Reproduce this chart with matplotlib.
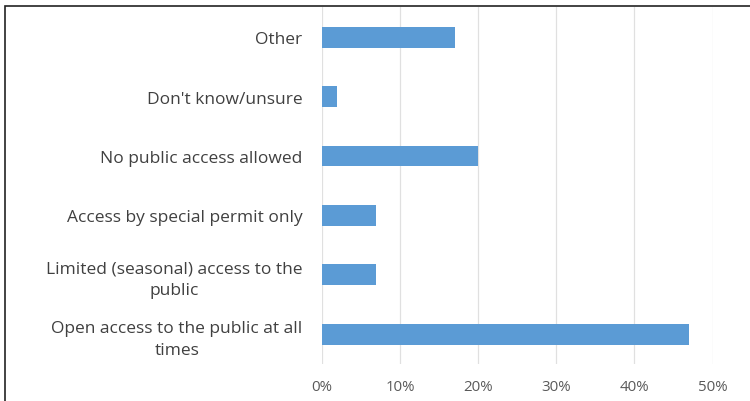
import matplotlib.pyplot as plt
from matplotlib.patches import Rectangle
from matplotlib.ticker import FuncFormatter

categories = ['Open access to the public at all\ntimes',
              'Limited (seasonal) access to the\npublic',
              'Access by special permit only',
              'No public access allowed',
              "Don't know/unsure",
              'Other']
values = [0.47, 0.07, 0.07, 0.20, 0.02, 0.17]
ticks = [0, 0.1, 0.2, 0.3, 0.4, 0.5]

plt.rcParams['font.family'] = ['Open Sans', 'DejaVu Sans']

fig = plt.figure(figsize=(7.5, 4.02), dpi=100)
ax = fig.add_axes([0.429, 0.092, 0.521, 0.887])

pos = range(len(categories))
ax.barh(pos, values, height=0.35, color='#5B9BD5', zorder=3)

ax.set_xlim(0, 0.5)
ax.set_ylim(-0.5, len(categories) - 0.5)
ax.set_xticks(ticks)
ax.xaxis.set_major_formatter(FuncFormatter(lambda v, p: '%d%%' % round(v * 100)))
ax.set_yticks(list(pos))
ax.set_yticklabels(categories, multialignment='center', linespacing=1.45)

ax.grid(axis='x', color='#E0E0E0', linewidth=0.9, zorder=0)
for s in ax.spines.values():
    s.set_visible(False)
ax.tick_params(axis='y', length=0, pad=14, labelsize=12.5, labelcolor='#404040')
ax.tick_params(axis='x', length=0, pad=11, labelsize=10.8, labelcolor='#595959')

# outer chart frame (cropped on right and bottom)
fig.patches.append(Rectangle((0.007, -0.05), 1.1, 1.032, transform=fig.transFigure,
                             fill=False, edgecolor='#222222', linewidth=1.2))

fig.savefig('out.png', dpi=100)
